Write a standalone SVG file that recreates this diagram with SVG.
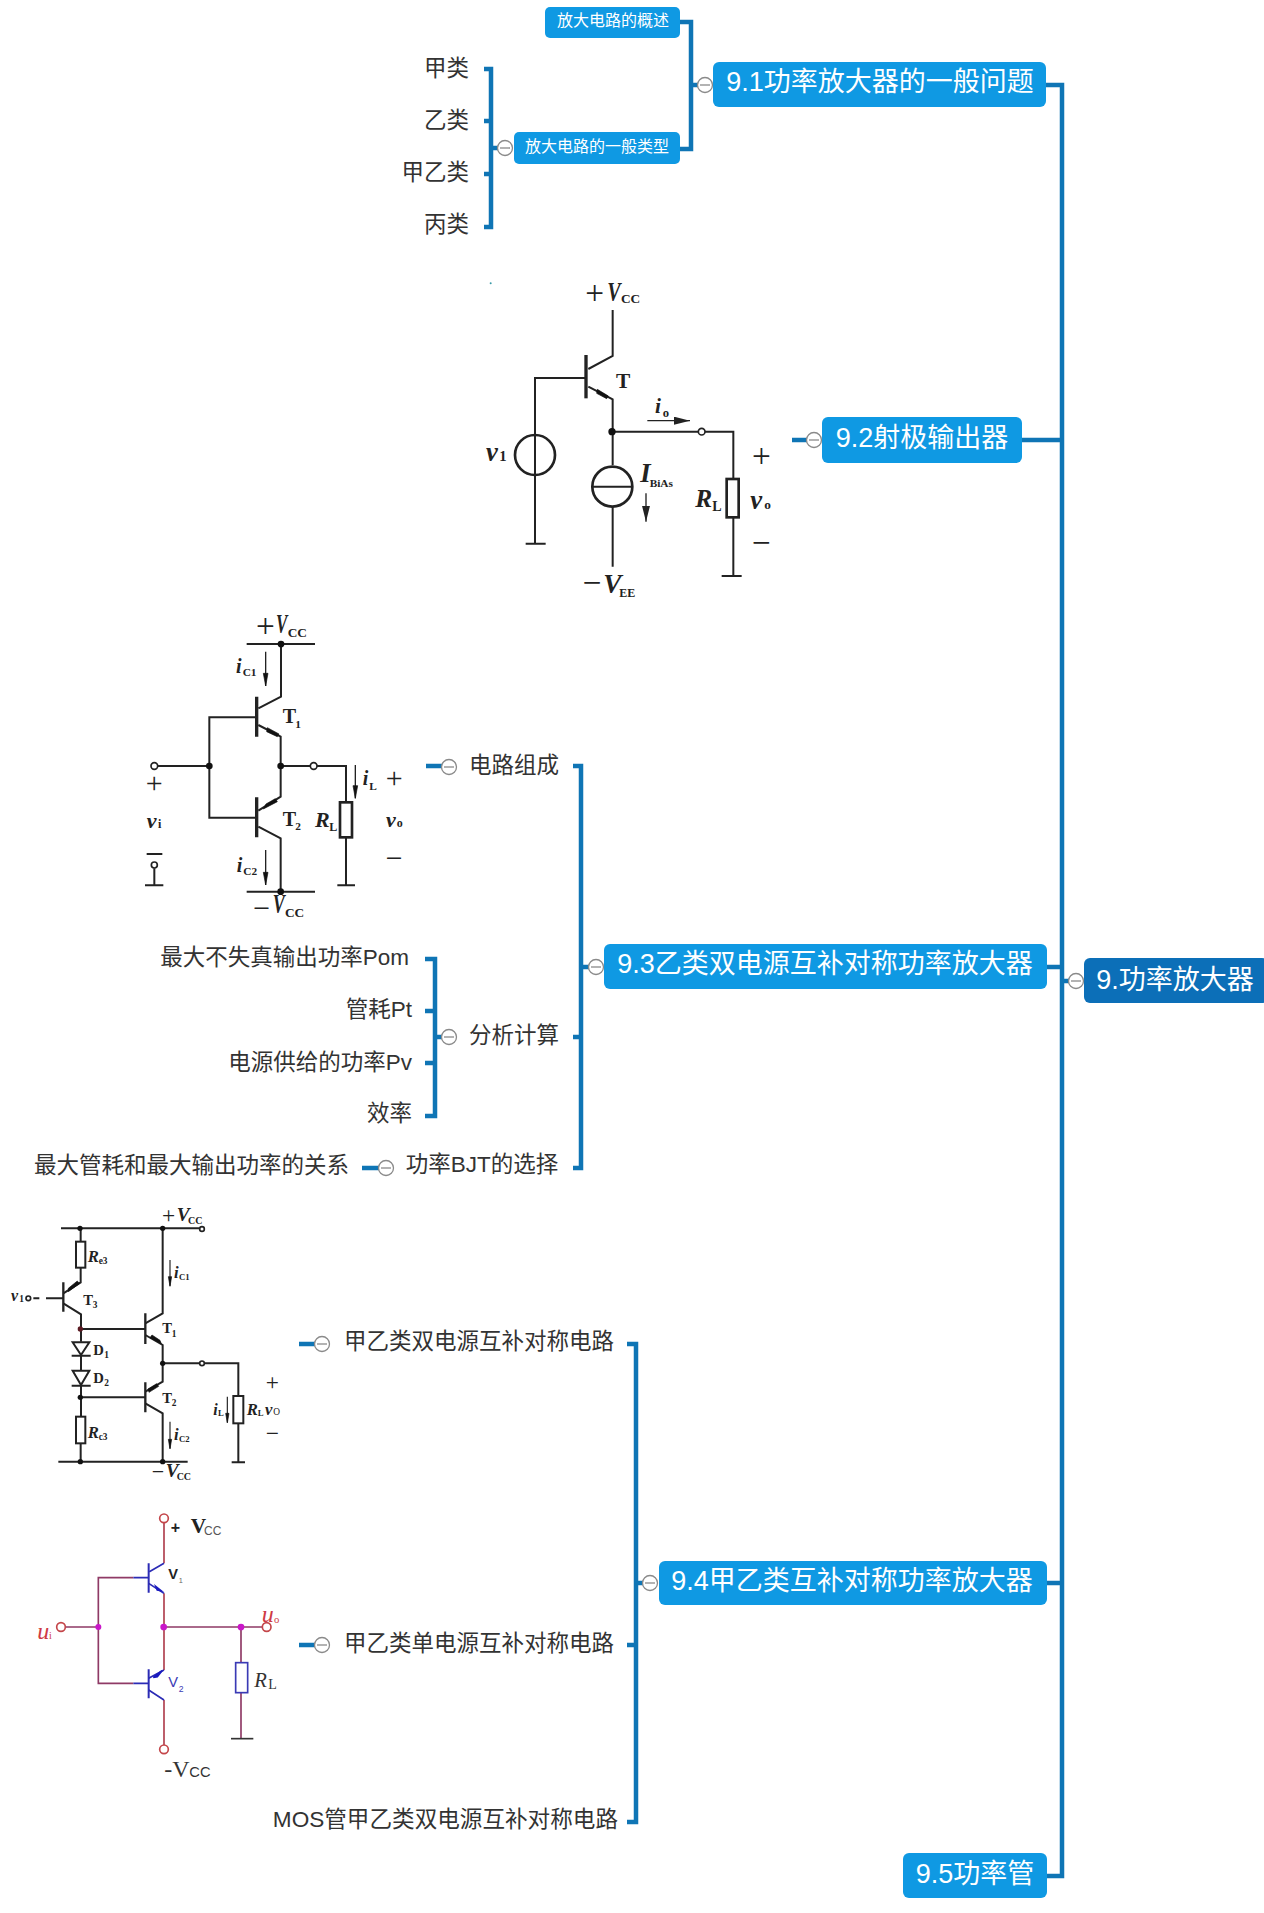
<svg xmlns="http://www.w3.org/2000/svg" xmlns:xlink="http://www.w3.org/1999/xlink" width="1264" height="1913" viewBox="0 0 1264 1913">
<style>
text{font-family:"Liberation Sans","Noto Sans CJK SC",sans-serif}
.leaf{font-size:22.5px;fill:#333;text-anchor:end}
.lbl{font-size:22.5px;fill:#333;text-anchor:middle}
.t1{font-size:27px;fill:#fff;text-anchor:middle}
.t2{font-size:16px;fill:#fff;text-anchor:middle}
.n{fill:#0f99e3}
.root{fill:#0c6fb8}
#connectors path{fill:none;stroke:#0f75b5;stroke-width:4.5}
.w{fill:none;stroke:#222;stroke-width:6}
.b{fill:none;stroke:#222;stroke-width:10}
.r{fill:#fff;stroke:#222;stroke-width:8}
.o{fill:#fff;stroke:#222;stroke-width:5}
.d{fill:#111}
.h{fill:#111;stroke:#111;stroke-width:2}
.s text,text.s{font-family:"Liberation Serif","Noto Serif",serif;fill:#222}
.i{font-style:italic;font-weight:bold}
.bd{font-weight:bold}
.wr{fill:none;stroke:#b0404f;stroke-width:5}
.wp{fill:none;stroke:#8f3a66;stroke-width:5}
.wb{fill:none;stroke:#2b2bb5;stroke-width:5}
.m{fill:#c917c9}
.oc{fill:#fff;stroke:#c4464a;stroke-width:5}
</style>
<defs>
<marker id="ah" viewBox="0 0 12 6" refX="12" refY="3" markerWidth="12" markerHeight="6" orient="auto" markerUnits="strokeWidth"><path d="M0 0L12 3L0 6Z" fill="#222"/></marker>
<g id="tg"><circle r="7.5" fill="#fff" stroke="#8a8a8a" stroke-width="1.3"/><path d="M-5 0H5" stroke="#8a8a8a" stroke-width="1.3"/></g>
</defs>
<rect width="1264" height="1913" fill="#fff"/>

<g id="connectors">
<path d="M1046 85H1062V1876H1047M1022 440H1062M1047 967H1062M1047 1583H1062M1062 981H1072"/>
<path d="M680 22H691V149H680M691 85H700"/>
<path d="M484 69H491V227H484M484 121H491M484 174H491M491 148H500"/>
<path d="M792 440H808"/>
<path d="M573 766H581V1168H573M573 1037H581M581 967H592M426 766H443"/>
<path d="M425 959H435V1116H425M425 1011H435M425 1063H435M435 1037H444M362 1168H380"/>
<path d="M627 1344H636V1822H627M627 1645H636M636 1583H645M299 1344H316M299 1645H316"/>
</g>

<g id="n9"><rect class="root" x="1084" y="958" width="184" height="45" rx="6"/><text class="t1" x="1175" y="989">9.功率放大器</text><use xlink:href="#tg" href="#tg" x="1076" y="981"/></g>
<g id="n91"><rect class="n" x="713" y="62" width="333" height="45" rx="6"/><text class="t1" x="880" y="91">9.1功率放大器的一般问题</text><use xlink:href="#tg" href="#tg" x="705" y="85"/></g>
<g id="n911"><rect class="n" x="545" y="7" width="135" height="31" rx="5"/><text class="t2" x="613" y="26">放大电路的概述</text></g>
<g id="n912"><rect class="n" x="514" y="132" width="166" height="32" rx="5"/><text class="t2" x="597" y="152">放大电路的一般类型</text><use xlink:href="#tg" href="#tg" x="505" y="148"/></g>
<g id="l1"><text class="leaf" x="469" y="76">甲类</text></g>
<g id="l2"><text class="leaf" x="469" y="128">乙类</text></g>
<g id="l3"><text class="leaf" x="469" y="180">甲乙类</text></g>
<g id="l4"><text class="leaf" x="469" y="232">丙类</text></g>
<g id="n92"><rect class="n" x="822" y="417" width="200" height="46" rx="6"/><text class="t1" x="922" y="447">9.2射极输出器</text><use xlink:href="#tg" href="#tg" x="814" y="440"/></g>
<g id="n93"><rect class="n" x="604" y="944" width="443" height="45" rx="6"/><text class="t1" x="825" y="973">9.3乙类双电源互补对称功率放大器</text><use xlink:href="#tg" href="#tg" x="596" y="967"/></g>
<g id="n931"><text class="lbl" x="514" y="773">电路组成</text><use xlink:href="#tg" href="#tg" x="449" y="767"/></g>
<g id="n932"><text class="lbl" x="514" y="1043">分析计算</text><use xlink:href="#tg" href="#tg" x="449" y="1037"/></g>
<g id="n933"><text class="lbl" x="482" y="1172">功率BJT的选择</text><use xlink:href="#tg" href="#tg" x="386" y="1168"/></g>
<g id="l5"><text class="leaf" x="409" y="965">最大不失真输出功率Pom</text></g>
<g id="l6"><text class="leaf" x="412" y="1017">管耗Pt</text></g>
<g id="l7"><text class="leaf" x="412" y="1070">电源供给的功率Pv</text></g>
<g id="l8"><text class="leaf" x="412" y="1121">效率</text></g>
<g id="l9"><text class="leaf" x="349" y="1173">最大管耗和最大输出功率的关系</text></g>
<g id="n94"><rect class="n" x="659" y="1561" width="388" height="44" rx="6"/><text class="t1" x="852" y="1590">9.4甲乙类互补对称功率放大器</text><use xlink:href="#tg" href="#tg" x="650" y="1583"/></g>
<g id="n941"><text class="lbl" x="479" y="1349">甲乙类双电源互补对称电路</text><use xlink:href="#tg" href="#tg" x="322" y="1344"/></g>
<g id="n942"><text class="lbl" x="479" y="1651">甲乙类单电源互补对称电路</text><use xlink:href="#tg" href="#tg" x="322" y="1645"/></g>
<g id="n943"><text class="leaf" x="618" y="1827" style="font-size:22.6px">MOS管甲乙类双电源互补对称电路</text></g>
<g id="n95"><rect class="n" x="903" y="1853" width="144" height="45" rx="6"/><text class="t1" x="975" y="1883">9.5功率管</text></g>

<!-- circuit 1 -->
<g id="circuit1" class="s" transform="translate(460 260) scale(.33333)">
<circle cx="92" cy="70" r="3" fill="#3a9aa8"/>
<path class="w" d="M458 150V288L385 327M378 354H225V850M385 380L458 418V615M458 740V920M456 515H715M735 515H820V657M820 772V945"/>
<path class="b" d="M378 285V415"/>
<path class="w" d="M197 851H257M785 948H845M395 680H518" stroke-width="7"/>
<polygon class="h" points="412,388 445,408 440,416 410,400"/>
<circle class="d" cx="456" cy="515" r="11"/>
<circle class="o" cx="725" cy="515" r="10"/>
<circle class="w" cx="225" cy="585" r="60" style="stroke-width:8"/>
<circle class="w" cx="457" cy="680" r="60" style="stroke-width:8"/>
<path class="w" d="M225 525V645"/>
<rect class="r" x="800" y="657" width="36" height="115"/>
<path class="w" d="M562 482H690" marker-end="url(#ah)" style="stroke-width:4"/>
<path class="w" d="M558 700V785" marker-end="url(#ah)" style="stroke-width:4"/>
<text x="376" y="131" font-size="100">+</text>
<text x="442" y="122" font-size="82" class="i" textLength="40" lengthAdjust="spacingAndGlyphs">V</text>
<text class="bd" x="483" y="128" font-size="40">CC</text>
<text class="bd" x="468" y="384" font-size="64">T</text>
<text x="585" y="460" font-size="64" class="i">i</text><text class="bd" x="608" y="470" font-size="38">o</text>
<text x="78" y="602" font-size="80" class="i">v</text><text class="bd" x="118" y="604" font-size="44">1</text>
<text x="541" y="667" font-size="80" class="i">I</text><text class="bd" x="569" y="680" font-size="34">BiAs</text>
<text x="706" y="742" font-size="76" class="i">R</text><text class="bd" x="757" y="752" font-size="42">L</text>
<text x="871" y="748" font-size="80" class="i">v</text><text class="bd" x="913" y="748" font-size="40">o</text>
<text x="876" y="620" font-size="100">+</text>
<text x="876" y="881" font-size="100">−</text>
<text x="368" y="1003" font-size="100">−</text>
<text x="430" y="998" font-size="82" class="i">V</text>
<text class="bd" x="478" y="1010" font-size="36">EE</text>
</g>

<!-- circuit 2 -->
<g id="circuit2" class="s" transform="translate(130 600) scale(.33333)">
<path class="w" d="M350 132H555M453 132V290L385 325M380 352H238V653H380M385 375L452 410V590L385 632M385 680L452 715V875M350 875H555M83 498H238M452 498H541M561 498H648V607M648 712V855M622 856H675M73 805V855M45 856H100M50 762H97"/>
<path class="b" d="M380 290V410M380 592V712"/>
<polygon class="h" points="412,383 447,402 442,410 410,395"/>
<polygon class="h" points="400,627 442,605 436,596 408,612"/>
<circle class="d" cx="453" cy="132" r="10"/><circle class="d" cx="452" cy="875" r="10"/><circle class="d" cx="238" cy="498" r="10"/><circle class="d" cx="452" cy="498" r="10"/>
<circle class="o" cx="73" cy="498" r="10"/><circle class="o" cx="551" cy="498" r="10"/><circle class="o" cx="73" cy="795" r="9"/>
<rect class="r" x="630" y="607" width="36" height="105"/>
<path class="w" d="M407 155V258M407 750V855M676 495V595" style="stroke-width:4"/>
<polygon class="h" points="400,220 414,220 407,258"/><polygon class="h" points="400,817 414,817 407,855"/><polygon class="h" points="669,557 683,557 676,595"/>
<text x="378" y="111" font-size="100">+</text>
<text x="438" y="100" font-size="80" class="i" textLength="34" lengthAdjust="spacingAndGlyphs">V</text>
<text class="bd" x="473" y="110" font-size="40">CC</text>
<text x="318" y="218" font-size="60" class="i">i</text><text class="bd" x="338" y="228" font-size="34">C1</text>
<text x="320" y="815" font-size="60" class="i">i</text><text class="bd" x="340" y="824" font-size="34">C2</text>
<text x="698" y="556" font-size="60" class="i">i</text><text class="bd" x="718" y="570" font-size="34">L</text>
<text class="bd" x="458" y="370" font-size="60">T</text><text class="bd" x="496" y="384" font-size="34">1</text>
<text class="bd" x="458" y="677" font-size="60">T</text><text class="bd" x="496" y="690" font-size="34">2</text>
<text x="555" y="682" font-size="66" class="i">R</text><text class="bd" x="598" y="692" font-size="36">L</text>
<text x="50" y="684" font-size="66" class="i">v</text><text class="bd" x="84" y="684" font-size="36">i</text>
<text x="768" y="680" font-size="66" class="i">v</text><text class="bd" x="800" y="680" font-size="36">o</text>
<text x="47" y="580" font-size="90">+</text>
<text x="767" y="565" font-size="90">+</text>
<text x="767" y="805" font-size="90">−</text>
<text x="370" y="955" font-size="90">−</text>
<text x="428" y="940" font-size="80" class="i" textLength="36" lengthAdjust="spacingAndGlyphs">V</text>
<text class="bd" x="465" y="952" font-size="40">CC</text>
</g>

<!-- circuit 3 -->
<g id="circuit3" class="s" transform="translate(0 1195) scale(.33333)">
<path class="w" d="M183 100H599M242 100V140M242 218V262L190 295M138 310H190M100 310H118M190 325L243 358V440M241 402H436M488 100V355L436 385M436 420L488 450V560L436 590M488 505H598M614 505H715V603M715 685V800M695 802H735M243 482V527M243 572V665M241 607H436M436 625L488 655V800M242 745V800M175 800H563"/>
<path class="b" d="M190 262V350M436 355V447M436 562V652" style="stroke-width:7"/>
<polygon class="h" points="205,290 238,266 232,258 205,280"/>
<polygon class="h" points="450,428 484,446 480,436 456,420"/>
<polygon class="h" points="447,592 476,574 470,566 444,582"/>
<polygon class="w" points="218,442 268,442 243,480" style="fill:#fff"/>
<polygon class="w" points="218,527 268,527 243,570" style="fill:#fff"/>
<path class="w" d="M215 482H272M215 572H272"/>
<circle class="d" cx="240" cy="100" r="8"/><circle class="d" cx="488" cy="100" r="8"/><circle cx="241" cy="402" r="8" fill="#5a1a22"/><circle class="d" cx="488" cy="505" r="8"/><circle class="d" cx="241" cy="607" r="8"/><circle class="d" cx="241" cy="800" r="8"/><circle class="d" cx="488" cy="800" r="8"/>
<circle class="o" cx="606" cy="102" r="7"/><circle class="o" cx="85" cy="310" r="7"/><circle class="o" cx="606" cy="505" r="7"/>
<rect class="r" x="228" y="140" width="28" height="78" style="stroke-width:6"/><rect class="r" x="228" y="665" width="28" height="80" style="stroke-width:6"/><rect class="r" x="700" y="603" width="30" height="82" style="stroke-width:6"/>
<path class="w" d="M510 195V272M510 680V760M682 605V682" style="stroke-width:3.5"/>
<polygon class="h" points="505,245 515,245 510,274"/><polygon class="h" points="505,733 515,733 510,762"/><polygon class="h" points="677,655 687,655 682,684"/>
<text x="486" y="85" font-size="70">+</text>
<text x="530" y="78" font-size="58" class="i">V</text>
<text class="bd" x="564" y="86" font-size="30">CC</text>
<text x="455" y="852" font-size="66">−</text>
<text x="497" y="845" font-size="58" class="i">V</text>
<text class="bd" x="530" y="855" font-size="30">CC</text>
<text x="263" y="200" font-size="50" class="i">R</text><text class="bd" x="296" y="207" font-size="28">e3</text>
<text x="263" y="728" font-size="50" class="i">R</text><text class="bd" x="296" y="735" font-size="28">c3</text>
<text x="33" y="318" font-size="48" class="i">v</text><text class="bd" x="58" y="320" font-size="28">1</text>
<text class="bd" x="250" y="330" font-size="44">T</text><text class="bd" x="278" y="339" font-size="28">3</text>
<text class="bd" x="487" y="415" font-size="44">T</text><text class="bd" x="515" y="425" font-size="28">1</text>
<text class="bd" x="487" y="625" font-size="44">T</text><text class="bd" x="515" y="634" font-size="28">2</text>
<text class="bd" x="280" y="480" font-size="44">D</text><text class="bd" x="313" y="489" font-size="28">1</text>
<text class="bd" x="280" y="565" font-size="44">D</text><text class="bd" x="313" y="574" font-size="28">2</text>
<text x="522" y="250" font-size="50" class="i">i</text><text class="bd" x="537" y="255" font-size="26">C1</text>
<text x="522" y="735" font-size="50" class="i">i</text><text class="bd" x="537" y="740" font-size="26">C2</text>
<text x="640" y="660" font-size="48" class="i">i</text><text class="bd" x="654" y="662" font-size="26">L</text>
<text x="740" y="660" font-size="50" class="i">R</text><text class="bd" x="773" y="664" font-size="26">L</text>
<text x="795" y="660" font-size="50" class="i">v</text><text x="820" y="660" font-size="28">O</text>
<text x="797" y="586" font-size="70">+</text>
<text x="797" y="738" font-size="70">−</text>
</g>

<!-- circuit 4 -->
<g id="circuit4" transform="translate(20 1500) scale(.33333)">
<path class="wr" d="M432 68V190M432 280V510M432 600V735"/>
<path class="wp" d="M340 233H235V550H340M136 381H235M431 381H727M663 381V488M663 578V715"/>
<path class="wb" d="M432 190L388 215M386 233H340M386 250L432 280M432 510L386 535M386 550H340M386 570L432 600"/>
<path class="wb" d="M386 190V278M386 508V595" style="stroke-width:6"/>
<path d="M633 716H700" stroke="#333" stroke-width="5"/>
<polygon points="402,252 432,276 410,272" fill="#1a1ac0"/>
<polygon points="400,532 426,512 412,530" fill="#1a1ac0" stroke="#1a1ac0" stroke-width="5"/>
<circle class="oc" cx="432" cy="55" r="13"/><circle class="oc" cx="432" cy="748" r="13"/><circle class="oc" cx="123" cy="381" r="13"/><circle class="oc" cx="740" cy="381" r="13"/>
<circle class="m" cx="235" cy="381" r="9"/><circle class="m" cx="431" cy="381" r="10"/><circle class="m" cx="663" cy="381" r="10"/>
<rect x="647" y="488" width="36" height="90" fill="#fff" stroke="#3a3ab5" stroke-width="5"/>
<text x="452" y="98" font-size="48" font-weight="bold" fill="#222">+</text>
<text x="512" y="98" font-size="64" font-weight="bold" fill="#222" style="font-family:'Liberation Serif',serif">V</text>
<text x="552" y="105" font-size="36" fill="#555">CC</text>
<text x="445" y="238" font-size="44" font-weight="bold" fill="#222">V</text><text x="476" y="250" font-size="22" fill="#666">1</text>
<text x="445" y="562" font-size="44" fill="#3a3ab5">V</text><text x="476" y="577" font-size="26" fill="#3a3ab5">2</text>
<text x="703" y="560" font-size="62" font-style="italic" fill="#333" style="font-family:'Liberation Serif',serif">R</text><text x="745" y="566" font-size="42" fill="#333" style="font-family:'Liberation Serif',serif">L</text>
<text x="725" y="366" font-size="72" font-style="italic" fill="#cf3a44" style="font-family:'Liberation Serif',serif">u</text><text x="762" y="368" font-size="32" fill="#cf3a44" style="font-family:'Liberation Serif',serif">o</text>
<text x="52" y="416" font-size="72" font-style="italic" fill="#cf3a44" style="font-family:'Liberation Serif',serif">u</text><text x="87" y="416" font-size="30" fill="#cf3a44" style="font-family:'Liberation Serif',serif">i</text>
<text x="433" y="830" font-size="72" fill="#333" style="font-family:'Liberation Serif',serif">-V</text><text x="508" y="830" font-size="44" fill="#333">CC</text>
</g>
</svg>
